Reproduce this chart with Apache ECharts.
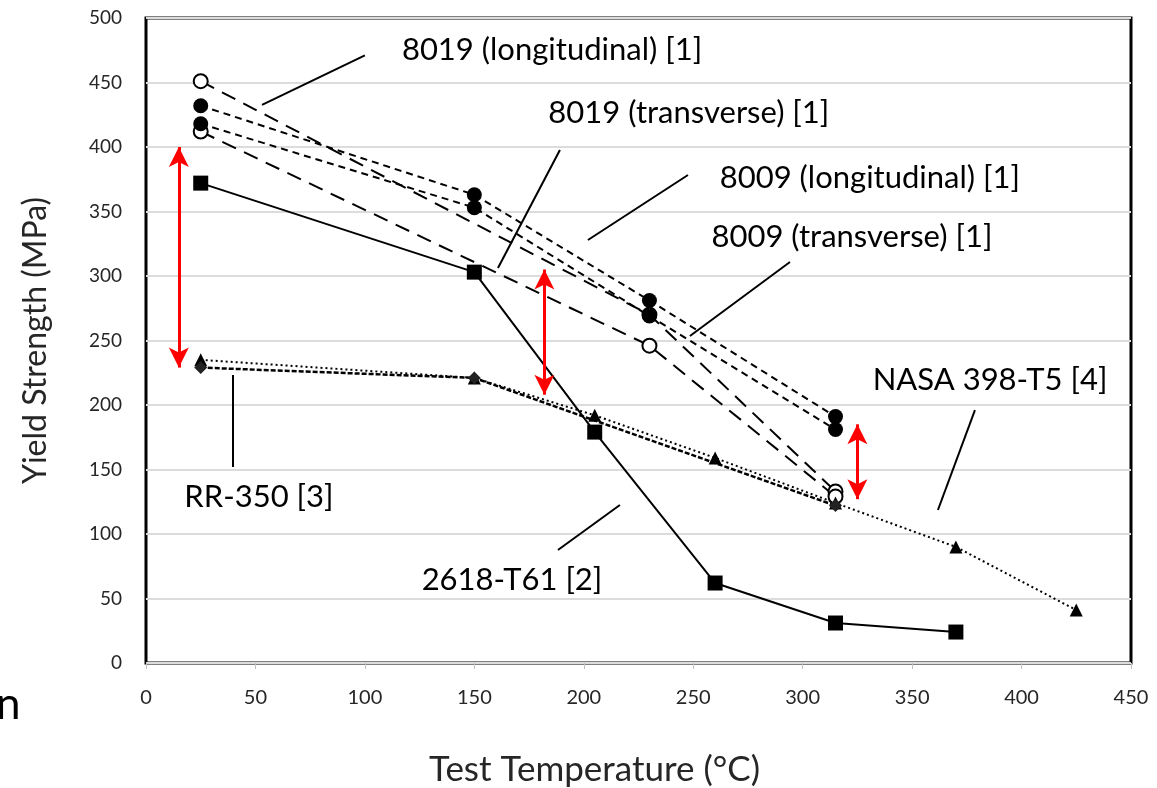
<!DOCTYPE html>
<html>
<head>
<meta charset="utf-8">
<script src="https://cdn.jsdelivr.net/npm/echarts@6/dist/echarts.min.js"></script>
<style>
  html, body { margin: 0; padding: 0; background: #fff; }
  #chart { width: 1157px; height: 788px; }
</style>
</head>
<body>
<div id="chart"></div>
<script>
// Yield strength (MPa) against test temperature (°C) for several aluminium alloys
const temp8019L = [25, 230, 315];
const ys8019L   = [451, 270, 133];
const temp8019T = [25, 230, 315];
const ys8019T   = [412, 246, 129];
const temp8009L = [25, 150, 230, 315];
const ys8009L   = [432, 363, 281, 191];
const temp8009T = [25, 150, 230, 315];
const ys8009T   = [418, 353, 269, 181];
const temp2618  = [25, 150, 205, 260, 315, 370];
const ys2618    = [372, 303, 179, 62, 31, 24];
const tempNASA  = [25, 150, 205, 260, 315, 370, 425];
const ysNASA    = [235, 221, 192, 159, 124, 90, 41];
const tempRR    = [25, 150, 315];
const ysRR      = [229, 221, 122];

// Strength gaps highlighted with double arrows: [temperature, upper MPa, lower MPa]
const gapArrows = [[15, 400, 229], [182, 305, 208], [325, 185, 127]];

// Series names used for the callouts
const labelNames = ['8019 (longitudinal) [1]', '8019 (transverse) [1]', '8009 (longitudinal) [1]',
  '8009 (transverse) [1]', 'NASA 398-T5 [4]', 'RR-350 [3]', '2618-T61 [2]'];

// Callout layout (axis units): text centre, leader start, leader end
const calloutLayout = [
  { text: [185.5, 475], from: [100, 471], to: [53, 432.6] },
  { text: [248, 426.4], from: [189.1, 397.7], to: [160.8, 306.2] },
  { text: [330.7, 376], from: [247.6, 378.3], to: [201.9, 327.9] },
  { text: [322.5, 330.2], from: [294.2, 310.9], to: [248.5, 253.5] },
  { text: [385.6, 219.4], from: [378.7, 196.1], to: [361.8, 118.6] },
  { text: [51.6, 128.7], from: [39.7, 223.3], to: [39.7, 151.9] },
  { text: [167.2, 64.3], from: [216.5, 122.5], to: [188.2, 87.6] }
];

const pair = (xs, ys) => xs.map((x, i) => [x, ys[i]]);
const FONT = 'Lato';
const INK = '#000';

function lineSeries(name, xs, ys, dash, width, symbol, size, fill) {
  return {
    name, type: 'line', data: pair(xs, ys),
    symbol, symbolSize: size,
    lineStyle: { color: INK, width, type: dash },
    itemStyle: { color: fill, borderColor: INK, borderWidth: fill === '#fff' ? 2 : 0 },
    z: 3
  };
}

const chart = echarts.init(document.getElementById('chart'), null, { renderer: 'canvas' });

chart.setOption({
  animation: false,
  backgroundColor: '#fff',
  textStyle: { fontFamily: FONT },
  grid: {
    left: 146, right: 26, top: 18, bottom: 125,
    containLabel: false, outerBoundsMode: 'none',
    show: true, borderColor: '#000', borderWidth: 3, backgroundColor: 'transparent'
  },
  xAxis: {
    type: 'value', min: 0, max: 450, interval: 50,
    name: 'Test Temperature (°C)', nameLocation: 'middle', nameGap: 89,
    nameTextStyle: { fontFamily: FONT, fontSize: 35, color: '#262626', padding: [0, 88, 0, 0] },
    axisLine: { show: false },
    axisTick: { show: true, inside: false, length: 6, lineStyle: { color: '#bfbfbf' } },
    axisLabel: { fontFamily: FONT, fontSize: 20, color: '#262626', margin: 25 },
    splitLine: { show: false }
  },
  yAxis: {
    type: 'value', min: 0, max: 500, interval: 50,
    name: 'Yield Strength (MPa)', nameLocation: 'middle', nameGap: 94,
    nameTextStyle: { fontFamily: FONT, fontSize: 32, color: '#262626' },
    axisLine: { show: false },
    axisTick: { show: false },
    axisLabel: { fontFamily: FONT, fontSize: 19, color: '#262626', margin: 24 },
    splitLine: { show: true, lineStyle: { color: '#dcdcdc', width: 2 } }
  },
  graphic: [
    { type: 'text', left: -4, top: 683, style: { text: 'n', font: '44px ' + FONT, fill: '#000' } }
  ],
  series: [
    lineSeries(labelNames[0], temp8019L, ys8019L, [15, 9], 2, 'circle', 14, '#fff'),
    lineSeries(labelNames[1], temp8019T, ys8019T, [15, 9], 2, 'circle', 14, '#fff'),
    lineSeries(labelNames[2], temp8009L, ys8009L, [7, 5], 2, 'circle', 15, INK),
    lineSeries(labelNames[3], temp8009T, ys8009T, [7, 5], 2, 'circle', 15, INK),
    lineSeries(labelNames[4], tempNASA, ysNASA, [2, 3], 2, 'triangle', 13, INK),
    lineSeries(labelNames[5], tempRR, ysRR, [5, 2], 2.5, 'diamond', 13, '#222'),
    lineSeries(labelNames[6], temp2618, ys2618, 'solid', 2, 'rect', 15, INK),
    {
      // Leader lines, callout texts and gap arrows
      name: 'notes', type: 'line', data: [], silent: true, z: 5,
      markLine: {
        silent: true, animation: false, precision: 3,
        label: { show: false },
        emphasis: { disabled: true },
        data: [
          ...calloutLayout.map(c => [
            { coord: c.from, symbol: 'none', lineStyle: { color: INK, width: 2, type: 'solid' } },
            { coord: c.to, symbol: 'none' }
          ]),
          ...gapArrows.map(a => [
            { coord: [a[0], a[1]], symbol: 'arrow', symbolSize: [15, 20],
              lineStyle: { color: '#ff0000', width: 3, type: 'solid' }, itemStyle: { color: '#ff0000' } },
            { coord: [a[0], a[2]], symbol: 'arrow', symbolSize: [15, 20], itemStyle: { color: '#ff0000' } }
          ])
        ]
      },
      markPoint: {
        silent: true, animation: false, symbol: 'circle', symbolSize: 0,
        data: calloutLayout.map((c, i) => ({
          coord: c.text,
          label: {
            show: true, formatter: labelNames[i], position: 'inside',
            fontFamily: FONT, fontSize: 31, color: '#000'
          }
        }))
      }
    }
  ]
});
</script>
</body>
</html>
